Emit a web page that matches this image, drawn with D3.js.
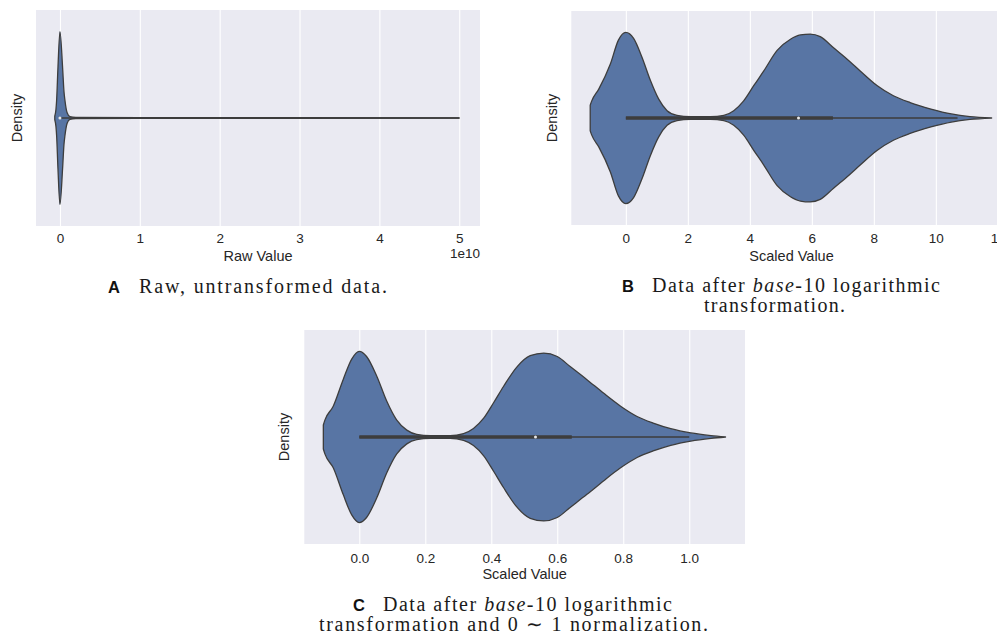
<!DOCTYPE html>
<html lang="en">
<head>
<meta charset="UTF-8">
<title>Violin plots of raw and transformed data</title>
<script src="https://d3js.org/d3.v7.min.js"></script>
<style>
  body { margin: 0; background: #fff; }
  svg { display: block; }
  .tick text { font-family: "Liberation Sans", Arial, sans-serif; font-size: 13.5px; fill: #262626; }
  .axis-label { font-family: "Liberation Sans", Arial, sans-serif; font-size: 14.5px; fill: #262626; }
  .caption { font-family: "Liberation Serif", "Times New Roman", serif; font-size: 20px; fill: #1a1a1a; }
  .caption-tag { font-family: "Liberation Sans", Arial, sans-serif; font-size: 16.5px; font-weight: bold; fill: #111; }
</style>
</head>
<body>
<svg id="fig" width="997" height="642"></svg>
<script>
// A: raw values (units of 1e10) and relative violin half-width
const rawValues  = [-0.065, -0.05, -0.042, -0.025, 0, 0.033, 0.05, 0.063, 0.09, 0.125, 0.2, 1.0, 3.0, 5.0];
const rawDensity = [0.02, 0.1, 0.2, 0.585, 1.0, 0.585, 0.31, 0.2, 0.06, 0.015, 0.006, 0.004, 0.003, 0];
const rawBox = [0, 0, 0, 0.0005, 5.0];            // whisker lo, q1, median, q3, whisker hi
const rawTicks = [0, 1, 2, 3, 4, 5];

// B: log10 values
const logValues  = [-1.15, -1.1, -0.87, -0.5, -0.24, 0, 0.25, 0.52, 0.79, 1.06, 1.33, 1.65, 2.08, 2.73, 3.16, 3.48, 3.8, 4.13, 4.45, 4.88, 5.31, 5.63, 5.95, 6.27, 6.7, 7.13, 7.56, 8.1, 8.63, 9.17, 9.84, 10.5, 11.1, 11.8];
const logDensity = [0.15, 0.2, 0.34, 0.63, 0.91, 1.0, 0.93, 0.71, 0.44, 0.22, 0.085, 0.03, 0.015, 0.015, 0.03, 0.085, 0.2, 0.38, 0.55, 0.79, 0.92, 0.97, 0.98, 0.95, 0.82, 0.69, 0.55, 0.38, 0.26, 0.18, 0.105, 0.047, 0.016, 0];
const logBox = [0, 0, 5.57, 6.68, 10.7];
const logTicks = [0, 2, 4, 6, 8, 10, 12];

// C: log10 values normalised to 0..1
const normValues  = [-0.109, -0.104, -0.079, -0.049, -0.023, 0, 0.022, 0.053, 0.083, 0.113, 0.144, 0.174, 0.215, 0.275, 0.316, 0.346, 0.377, 0.407, 0.437, 0.478, 0.518, 0.559, 0.6, 0.64, 0.69, 0.741, 0.792, 0.842, 0.893, 0.944, 1.005, 1.066, 1.11];
const normDensity = [0.14, 0.2, 0.36, 0.67, 0.91, 1.0, 0.94, 0.71, 0.42, 0.2, 0.08, 0.03, 0.015, 0.015, 0.04, 0.1, 0.22, 0.4, 0.59, 0.82, 0.95, 0.98, 0.94, 0.82, 0.67, 0.51, 0.36, 0.24, 0.16, 0.097, 0.047, 0.016, 0];
const normBox = [0, 0, 0.534, 0.644, 1.0];
const normTicks = [0, 0.2, 0.4, 0.6, 0.8, 1.0];

const svg = d3.select("#fig");
const fill = "#5875a4", edge = "#3d3d3d";

const panels = [
  { values: rawValues, density: rawDensity, box: rawBox, ticks: rawTicks, fmt: d3.format("d"),
    domain: [-0.30, 5.26], left: 36, right: 480, top: 10, bottom: 226,
    tickBase: 243.3, xlabel: "Raw Value", labelBase: 260.7, ylabelX: 21.7, offset: "1e10" },
  { values: logValues, density: logDensity, box: logBox, ticks: logTicks, fmt: d3.format("d"),
    domain: [-1.76, 12.45], left: 571.3, right: 1011.8, top: 11, bottom: 225,
    tickBase: 243.3, xlabel: "Scaled Value", labelBase: 260.7, ylabelX: 556.7 },
  { values: normValues, density: normDensity, box: normBox, ticks: normTicks, fmt: d3.format(".1f"),
    domain: [-0.1667, 1.169], left: 304.3, right: 745, top: 330, bottom: 544,
    tickBase: 563.3, xlabel: "Scaled Value", labelBase: 579.3, ylabelX: 289.3 }
];

panels.forEach(drawPanel);

function drawPanel(p) {
  const g = svg.append("g");
  const x = d3.scaleLinear().domain(p.domain).range([p.left, p.right]);
  const y = d3.scaleLinear().domain([-0.5, 0.5]).range([p.bottom, p.top]);

  g.append("rect")
    .attr("x", p.left).attr("y", p.top)
    .attr("width", p.right - p.left).attr("height", p.bottom - p.top)
    .attr("fill", "#eaeaf2");

  // vertical grid
  const grid = g.append("g").attr("transform", `translate(0,${p.bottom})`)
    .call(d3.axisBottom(x).tickValues(p.ticks).tickSize(-(p.bottom - p.top)).tickFormat(""));
  grid.select(".domain").remove();
  grid.selectAll("line").attr("stroke", "#fff").attr("stroke-width", 1.1);

  // tick labels
  const fs = 13.5;
  const ax = g.append("g").attr("transform", `translate(0,${p.bottom})`)
    .call(d3.axisBottom(x).tickValues(p.ticks).tickFormat(p.fmt).tickSize(0)
      .tickPadding(p.tickBase - p.bottom - 0.71 * fs));
  ax.select(".domain").remove();
  ax.attr("font-family", null).attr("font-size", null);

  // violin body
  const area = d3.area()
    .x((d, i) => x(p.values[i]))
    .y0(d => y(-d * 0.4))
    .y1(d => y(d * 0.4))
    .curve(d3.curveMonotoneX);
  g.append("path")
    .datum(p.density)
    .attr("d", area)
    .attr("fill", fill)
    .attr("stroke", edge)
    .attr("stroke-width", 1.3)
    .attr("stroke-linejoin", "round");

  // inner box
  const [lo, q1, med, q3, hi] = p.box;
  g.append("line")
    .attr("x1", x(lo)).attr("x2", x(hi)).attr("y1", y(0)).attr("y2", y(0))
    .attr("stroke", edge).attr("stroke-width", 1.3);
  g.append("line")
    .attr("x1", x(q1)).attr("x2", x(q3)).attr("y1", y(0)).attr("y2", y(0))
    .attr("stroke", edge).attr("stroke-width", 3.6);
  g.append("circle")
    .attr("cx", x(med)).attr("cy", y(0)).attr("r", 1.5)
    .attr("fill", "#e8e8e8").attr("stroke", "none");

  // labels
  g.append("text").attr("class", "axis-label")
    .attr("x", (p.left + p.right) / 2).attr("y", p.labelBase)
    .attr("text-anchor", "middle").text(p.xlabel);
  g.append("text").attr("class", "axis-label")
    .attr("transform", `translate(${p.ylabelX},${(p.top + p.bottom) / 2}) rotate(-90)`)
    .attr("text-anchor", "middle").text("Density");
  if (p.offset) {
    g.append("text").attr("class", "axis-label")
      .style("font-size", "13.5px")
      .attr("x", p.right).attr("y", 257.7)
      .attr("text-anchor", "end").text(p.offset);
  }
}

// sub-figure captions
const captions = [
  { tag: "A", tagX: 108, base: 293, lines: [{ x: 139, y: 293, w: 248, parts: [["Raw, untransformed data.", false]] }] },
  { tag: "B", tagX: 622, base: 292, lines: [
      { x: 652, y: 292, w: 288, parts: [["Data after ", false], ["base", true], ["-10 logarithmic", false]] },
      { x: 704, y: 312, w: 141, parts: [["transformation.", false]] } ] },
  { tag: "C", tagX: 353, base: 610.5, lines: [
      { x: 383, y: 610.5, w: 289, parts: [["Data after ", false], ["base", true], ["-10 logarithmic", false]] },
      { x: 319, y: 631, w: 389, parts: [["transformation and 0 \u223C 1 normalization.", false]] } ] }
];

captions.forEach(c => {
  svg.append("text").attr("class", "caption-tag")
    .attr("x", c.tagX).attr("y", c.base).text(c.tag);
  c.lines.forEach(l => {
    const t = svg.append("text").attr("class", "caption")
      .attr("x", l.x).attr("y", l.y)
      .attr("textLength", l.w).attr("lengthAdjust", "spacing");
    l.parts.forEach(([s, it]) => {
      t.append("tspan").style("font-style", it ? "italic" : "normal").text(s);
    });
  });
});
</script>
</body>
</html>
